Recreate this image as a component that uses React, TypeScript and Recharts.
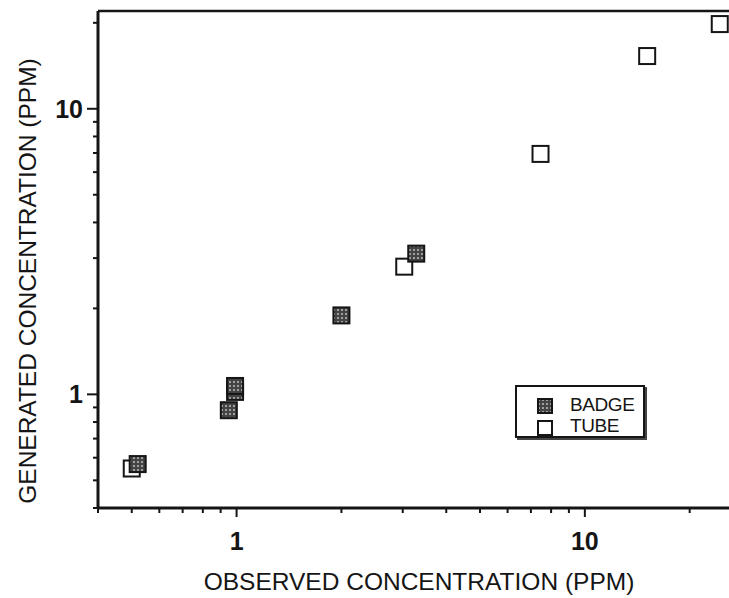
import { ScatterChart, Scatter, XAxis, YAxis, ReferenceLine, Legend } from 'recharts';

// values (log-log)
const badgeX = [0.52, 0.95, 0.99, 0.99, 2.0, 3.28];
const badgeY = [0.57, 0.88, 1.02, 1.07, 1.89, 3.11];
const tubeX = [0.5, 3.03, 7.46, 15.1, 24.4];
const tubeY = [0.55, 2.8, 6.95, 15.3, 19.8];

const xTicks = [0.4, 0.5, 0.6, 0.7, 0.8, 0.9, 1, 2, 3, 4, 5, 6, 7, 8, 9, 10, 20, 30];
const yTicks = [0.4, 0.5, 0.6, 0.7, 0.8, 0.9, 1, 2, 3, 4, 5, 6, 7, 8, 9, 10, 20];
const majorTicks = [1, 10];

const badgeData = badgeX.map((x, i) => ({ x, y: badgeY[i] }));
const tubeData = tubeX.map((x, i) => ({ x, y: tubeY[i] }));

const FONT = '"Liberation Sans", Arial, sans-serif';
const INK = '#151515';

const XTick = (props: any) => {
  const { x, y, payload } = props;
  const major = majorTicks.includes(payload.value);
  return (
    <g>
      <line x1={x} x2={x} y1={y} y2={y + (major ? 9 : 5)} stroke={INK} strokeWidth={2} />
      {major && (
        <text x={x} y={y + 42} textAnchor="middle" fontFamily={FONT} fontSize={25} fontWeight="bold" fill={INK}>
          {payload.value}
        </text>
      )}
    </g>
  );
};

const YTick = (props: any) => {
  const { x, y, payload } = props;
  const major = majorTicks.includes(payload.value);
  return (
    <g>
      <line x1={x} x2={x - (major ? 11 : 5)} y1={y} y2={y} stroke={INK} strokeWidth={2} />
      {major && (
        <text x={x - 15} y={y + 9} textAnchor="end" fontFamily={FONT} fontSize={25} fontWeight="bold" fill={INK}>
          {payload.value}
        </text>
      )}
    </g>
  );
};

const BadgeMarker = (props: any) => {
  const { cx, cy } = props;
  return <rect x={cx - 8} y={cy - 8} width={16} height={16} fill="url(#badgeDots)" stroke={INK} strokeWidth={2} />;
};

const TubeMarker = (props: any) => {
  const { cx, cy } = props;
  return <rect x={cx - 8} y={cy - 8} width={16} height={16} fill="#fff" stroke={INK} strokeWidth={2} />;
};

const LegendBox = () => (
  <div
    style={{
      position: 'relative',
      width: 130,
      height: 53,
      boxSizing: 'border-box',
      border: `2px solid ${INK}`,
      boxShadow: '2px 2px 0 #444',
      background: '#fff',
      fontFamily: FONT,
      fontSize: 19,
      color: INK,
    }}
  >
    <svg width={16} height={40} style={{ position: 'absolute', left: 20, top: 11 }}>
      <defs>
        <pattern id="legendDots" width="4" height="4" patternUnits="userSpaceOnUse">
          <rect width="4" height="4" fill="#444" />
          <rect x="1" y="1" width="2" height="2" fill="#a0a0a0" />
        </pattern>
      </defs>
      <rect x={1} y={1} width={14} height={14} fill="url(#legendDots)" stroke={INK} strokeWidth={2} />
      <rect x={1} y={23} width={14} height={14} fill="#fff" stroke={INK} strokeWidth={2} />
    </svg>
    <div style={{ position: 'absolute', left: 53, top: 8, lineHeight: '20px', letterSpacing: -0.4 }}>BADGE</div>
    <div style={{ position: 'absolute', left: 53, top: 29, lineHeight: '20px', letterSpacing: -0.4 }}>TUBE</div>
  </div>
);

const XTitle = () => (
  <text x={419} y={590} textAnchor="middle" fontFamily={FONT} fontSize={24.5} fill={INK}>
    OBSERVED CONCENTRATION (PPM)
  </text>
);

const YTitle = () => (
  <text x={36} y={281} transform="rotate(-90, 36, 281)" textAnchor="middle" fontFamily={FONT} fontSize={24.5} fill={INK}>
    GENERATED CONCENTRATION (PPM)
  </text>
);

export default function App() {
  return (
    <div style={{ position: 'absolute', left: 0, top: 0, width: 729, height: 598, overflow: 'hidden', background: '#fff' }}>
      <ScatterChart width={760} height={598} margin={{ top: 11, right: 9, bottom: 0, left: 0 }}>
        <defs>
          <pattern id="badgeDots" width="4" height="4" patternUnits="userSpaceOnUse">
            <rect width="4" height="4" fill="#444" />
            <rect x="1" y="1" width="2" height="2" fill="#a0a0a0" />
          </pattern>
        </defs>
        <XAxis
          type="number"
          dataKey="x"
          scale="log"
          domain={[0.4, 30]}
          allowDataOverflow
          ticks={xTicks}
          interval={0}
          height={90}
          tickSize={0}
          tickMargin={0}
          tickLine={false}
          tick={<XTick />}
          axisLine={{ stroke: INK, strokeWidth: 3 }}
          label={<XTitle />}
        />
        <YAxis
          type="number"
          dataKey="y"
          scale="log"
          domain={[0.4, 22]}
          allowDataOverflow
          ticks={yTicks}
          interval={0}
          width={98}
          tickSize={0}
          tickMargin={0}
          tickLine={false}
          tick={<YTick />}
          axisLine={{ stroke: INK, strokeWidth: 3 }}
          label={<YTitle />}
        />
        <ReferenceLine y={22} stroke={INK} strokeWidth={2.5} />
        <Legend
          layout="vertical"
          align="center"
          verticalAlign="middle"
          wrapperStyle={{ left: 515, top: 385, width: 130, height: 53 }}
          content={<LegendBox />}
        />
        <Scatter name="TUBE" data={tubeData} shape={<TubeMarker />} isAnimationActive={false} />
        <Scatter name="BADGE" data={badgeData} shape={<BadgeMarker />} isAnimationActive={false} />
      </ScatterChart>
    </div>
  );
}
